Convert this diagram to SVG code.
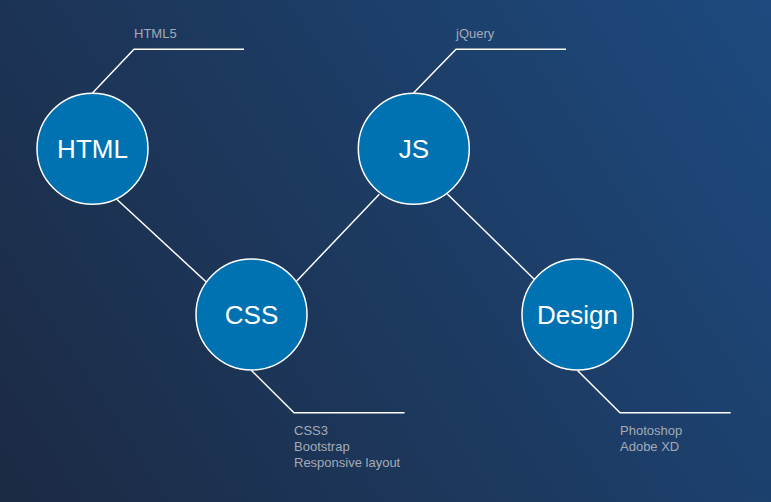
<svg xmlns="http://www.w3.org/2000/svg" width="771" height="502" viewBox="0 0 771 502">
<defs>
<linearGradient id="bg" x1="0" y1="502" x2="771" y2="0" gradientUnits="userSpaceOnUse">
<stop offset="0" stop-color="#1c2a43"/>
<stop offset="1" stop-color="#1d4a7f"/>
</linearGradient>
<style>
.node circle{fill:#0172b1;stroke:#ffffff;stroke-width:1.5}
.node text.t{font-family:"Liberation Sans",Arial,sans-serif;font-size:26px;fill:#ffffff;text-anchor:middle}
.lbl{font-family:"Liberation Sans",Arial,sans-serif;font-size:13px;fill:#a3abb7}
.conn line,.conn polyline{stroke:#ffffff;stroke-width:1.5;fill:none}
</style>
</defs>
<rect width="771" height="502" fill="url(#bg)"/>
<g id="connectors" class="conn">
<line x1="116.7" y1="199.3" x2="206" y2="281.7"/>
<line x1="296.7" y1="281" x2="379.3" y2="194.3"/>
<line x1="447.3" y1="194" x2="536" y2="281"/>
<polyline points="92.5,93 134,49.3 244,49.3"/>
<polyline points="413.5,93 456,49.3 566,49.3"/>
<polyline points="251.5,370.5 294,412.7 404.5,412.7"/>
<polyline points="577.5,370.5 620,412.7 730.7,412.7"/>
</g>
<g id="node-html" class="node">
<circle cx="92.5" cy="148.8" r="55.5"/>
<text class="t" x="92.5" y="158.3">HTML</text>
<text class="lbl" x="134" y="37.5">HTML5</text>
</g>
<g id="node-js" class="node">
<circle cx="413.8" cy="148.8" r="55.5"/>
<text class="t" x="413.8" y="158.3">JS</text>
<text class="lbl" x="456" y="37.5">jQuery</text>
</g>
<g id="node-css" class="node">
<circle cx="251.5" cy="314.5" r="55.5"/>
<text class="t" x="251.5" y="324">CSS</text>
<text class="lbl" x="294" y="435">CSS3</text>
<text class="lbl" x="294" y="451">Bootstrap</text>
<text class="lbl" x="294" y="467">Responsive layout</text>
</g>
<g id="node-design" class="node">
<circle cx="577.5" cy="314.5" r="55.5"/>
<text class="t" x="577.5" y="324">Design</text>
<text class="lbl" x="620" y="435">Photoshop</text>
<text class="lbl" x="620" y="451">Adobe XD</text>
</g>
</svg>
